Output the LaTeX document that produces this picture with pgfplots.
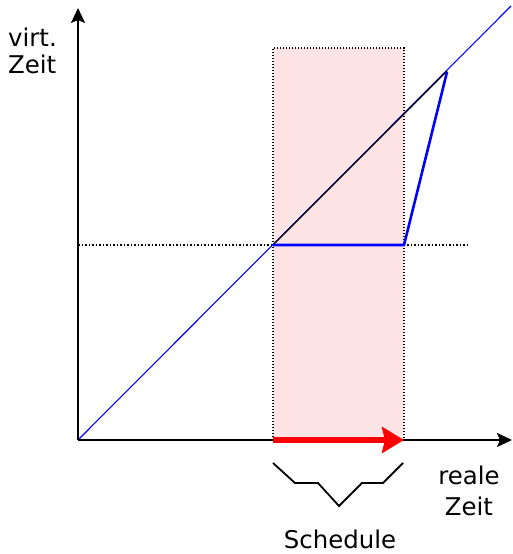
\documentclass[border=0pt]{standalone}
\usepackage{fontspec}
\setmainfont{DejaVu Sans}
\usepackage{pgfplots}
\pgfplotsset{compat=1.18}
\usetikzlibrary{arrows.meta}
\definecolor{rosa}{RGB}{254,228,228}
\begin{document}
\begin{tikzpicture}
\begin{axis}[
  x=1bp, y=1bp,
  xmin=-78, xmax=435, ymin=-114, ymax=440,
  hide axis, clip=false,
]
% frame for bounding box
\addplot[draw=none] coordinates {(-78,-114) (435,440)};
% shaded schedule area
\addplot[fill=rosa, draw=none] coordinates {(195,0) (195,392) (326,392) (326,0)} -- cycle;
\addplot[black, line width=1.2bp, dash pattern=on 1.4bp off 1.6bp] coordinates {(195,0) (195,392) (326,392) (326,0)};
% dotted horizontal
\addplot[black, line width=1.3bp, dash pattern=on 1.5bp off 2bp] coordinates {(0,195) (390,195)};
% blue diagonal
\addplot[blue, line width=1.1bp] coordinates {(0,0) (433,434)};
% black segment
\addplot[black, line width=1.4bp] coordinates {(195,195) (369,369)};
% blue thick path
\addplot[blue, line width=2.6bp] coordinates {(195,195) (326,195) (369,368)};
% axes
\addplot[black, line width=2bp, -{Stealth[length=15bp,width=14bp,inset=3bp]}] coordinates {(0,0) (0,432)};
\addplot[black, line width=2bp, -{Stealth[length=15bp,width=14bp,inset=3bp]}] coordinates {(0,0) (434,0)};
% red arrow
\addplot[red, line width=6.5bp, -{Stealth[length=22bp,width=26bp,inset=3bp]}] coordinates {(195,0) (326,0)};
% brace
\addplot[black, line width=1.8bp] coordinates {(195,-23) (217,-43) (240,-43) (261,-66) (284,-43) (305,-43) (325,-23)};
% labels
\node[anchor=base west, inner sep=0pt, font=\fontsize{24.5}{29}\selectfont] at (axis cs:-70,393) {virt.};
\node[anchor=base west, inner sep=0pt, font=\fontsize{24.5}{29}\selectfont] at (axis cs:-70,366) {Zeit};
\node[anchor=base, inner sep=0pt, font=\fontsize{24.5}{29}\selectfont] at (axis cs:391,-45) {reale};
\node[anchor=base, inner sep=0pt, font=\fontsize{24.5}{29}\selectfont] at (axis cs:391,-76) {Zeit};
\node[anchor=base, inner sep=0pt, font=\fontsize{24.5}{29}\selectfont] at (axis cs:262,-109) {Schedule};
\end{axis}
\end{tikzpicture}
\end{document}
